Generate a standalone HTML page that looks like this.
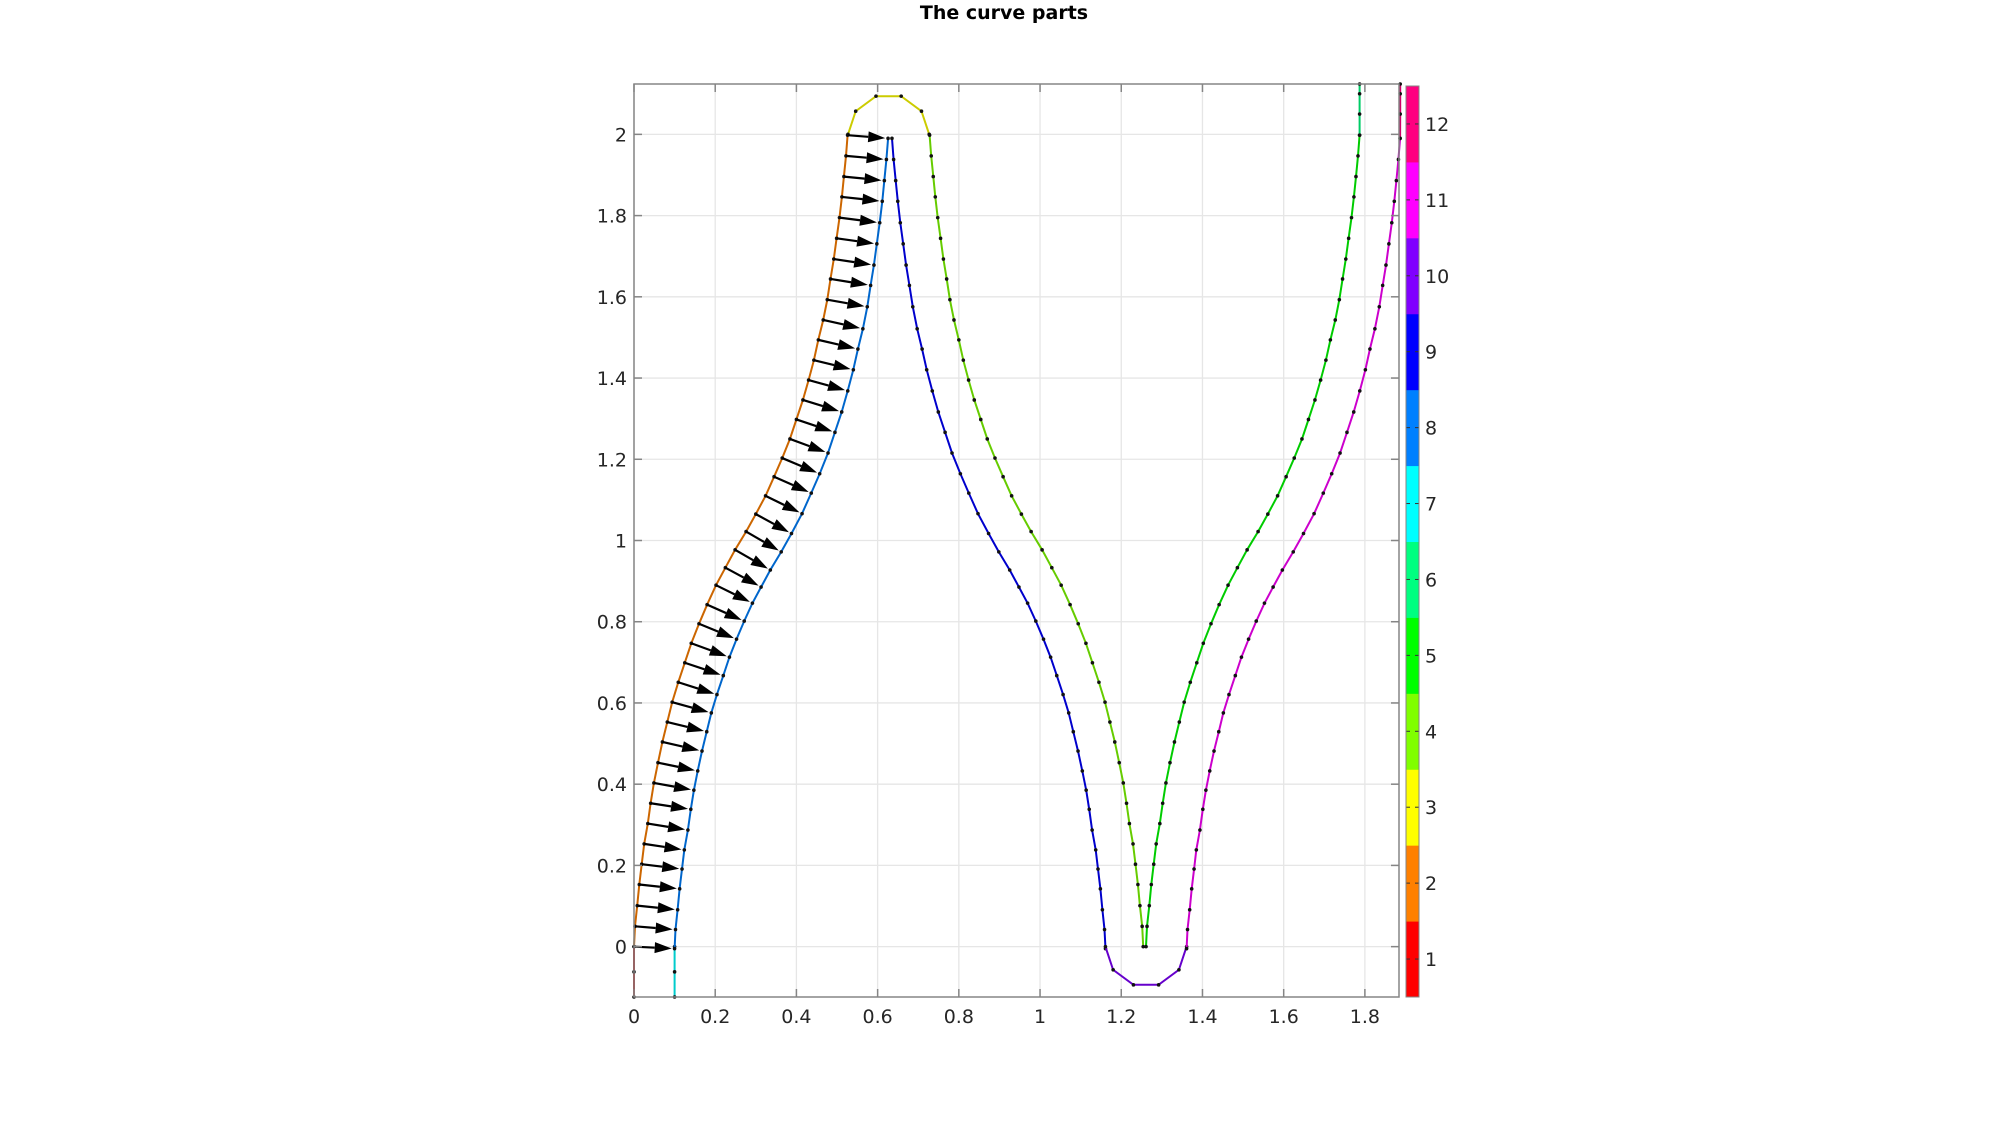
<!DOCTYPE html>
<html><head><meta charset="utf-8"><style>
html,body{margin:0;padding:0;background:#fff;}
svg{display:block;font-family:"DejaVu Sans","Liberation Sans",sans-serif;}
</style></head><body>
<svg id="chart" width="2000" height="1121" viewBox="0 0 2000 1121" xmlns="http://www.w3.org/2000/svg">
<text x="1004" y="19" text-anchor="middle" font-size="19" font-weight="bold" fill="#000">The curve parts</text>
<g id="grid"></g>
<g id="curves"></g>
<g id="arrows"></g>
<g id="axes"></g>
<g id="cbar"></g>
</svg>
<script>
// Outer left profile (orange), y and x values
const outerY = [0,0.05,0.101,0.153,0.203,0.253,0.303,0.353,0.403,0.453,0.504,0.553,0.602,0.651,0.699,0.747,0.795,0.842,0.890,0.933,0.977,1.022,1.065,1.110,1.157,1.203,1.250,1.298,1.346,1.395,1.444,1.494,1.543,1.593,1.644,1.693,1.744,1.795,1.846,1.896,1.947,1.998];
const outerX = [0,0.0025,0.008,0.013,0.019,0.025,0.034,0.041,0.049,0.059,0.070,0.082,0.094,0.109,0.125,0.141,0.160,0.180,0.202,0.225,0.249,0.276,0.300,0.324,0.345,0.365,0.384,0.400,0.416,0.430,0.443,0.454,0.466,0.476,0.484,0.492,0.499,0.506,0.512,0.517,0.522,0.526];
// Extension above y=2 on the right side
const extY = [2.05,2.1,2.124];
const extX = [0.526,0.526,0.526];
// Cap shape (relative offsets)
const capDx = [-0.1,-0.081,-0.031,0.031,0.081,0.1];
const capDy = [0,0.057,0.094,0.094,0.057,0];
const offsetDist = [0.1];
const topCapCenter = [0.627,2.0];
const midCenter = [1.261,0];
const stubBottom = [-0.124];
const cbarLabels = ['1','2','3','4','5','6','7','8','9','10','11','12'];
const xTicks = [0,0.2,0.4,0.6,0.8,1,1.2,1.4,1.6,1.8];
const yTicks = [0,0.2,0.4,0.6,0.8,1,1.2,1.4,1.6,1.8,2];

const L=634,R=1399,T=84,B=997, XMIN=0,XMAX=1.884,YMIN=-0.124,YMAX=2.124;
const sx=v=>L+(v-XMIN)/(XMAX-XMIN)*(R-L);
const sy=v=>B-(v-YMIN)/(YMAX-YMIN)*(B-T);
const NS='http://www.w3.org/2000/svg';
function mk(tag,attrs,parent){const e=document.createElementNS(NS,tag);for(const k in attrs)e.setAttribute(k,attrs[k]);parent.appendChild(e);return e;}
const cmap=['#ff0000','#ff8000','#ffff00','#80ff00','#00ff00','#00ff80','#00ffff','#0080ff','#0000ff','#8000ff','#ff00ff','#ff0080'];
function dark(hex,f){const n=parseInt(hex.slice(1),16);const r=((n>>16)&255)*f,g=((n>>8)&255)*f,b=(n&255)*f;return `rgb(${r|0},${g|0},${b|0})`;}

const grid=document.getElementById('grid');
xTicks.forEach(v=>{const l=mk('line',{x1:sx(v),x2:sx(v),y1:T,y2:B,stroke:'#e6e6e6','stroke-width':1.3},grid);

});
yTicks.forEach(v=>{const l=mk('line',{x1:L,x2:R,y1:sy(v),y2:sy(v),stroke:'#e6e6e6','stroke-width':1.3},grid);

});

const outer=outerX.map((x,i)=>[x,outerY[i]]);
const inner=outer.map((p,i)=>{const a=outer[Math.max(0,i-1)],b=outer[Math.min(outer.length-1,i+1)];
 let tx=b[0]-a[0],ty=b[1]-a[1];const m=Math.hypot(tx,ty);return [p[0]+offsetDist[0]*ty/m,p[1]-offsetDist[0]*tx/m];});
const ext=extX.map((x,i)=>[x,extY[i]]);
const cx0=topCapCenter[0],cx1=midCenter[0];
const parts=[
 [[0,stubBottom[0]],[0,(stubBottom[0])/2],[0,0]],
 outer,
 capDx.map((d,i)=>[cx0+d,topCapCenter[1]+capDy[i]]),
 outer.slice().reverse().map(p=>[2*cx0-p[0],p[1]]),
 outer.map(p=>[cx1+p[0],p[1]]),
 [[cx1+outer[outer.length-1][0],outer[outer.length-1][1]]].concat(ext.map(p=>[cx1+p[0],p[1]])),
 [[offsetDist[0],0],[offsetDist[0],stubBottom[0]/2],[offsetDist[0],stubBottom[0]]].reverse(),
 inner.slice().reverse(),
 inner.map(p=>[cx1-p[0],p[1]]),
 capDx.map((d,i)=>[cx1+d,midCenter[1]-capDy[i]]),
 inner.map(p=>[cx1+p[0],p[1]]),
 ext.map(p=>[cx1+p[0]+offsetDist[0],p[1]]).reverse().concat([[cx1+inner[inner.length-1][0],inner[inner.length-1][1]]])
];
const cg=document.getElementById('curves');
parts.forEach((pts,k)=>{
 const d=pts.map((p,i)=>(i?'L':'M')+sx(p[0]).toFixed(1)+' '+sy(p[1]).toFixed(1)).join(' ');
 const path=mk('path',{d:d,fill:'none',stroke:dark(cmap[k],0.8),'stroke-width':2},cg);
 
 
 pts.forEach(p=>{const c=mk('circle',{cx:sx(p[0]),cy:sy(p[1]),r:1.8,fill:'#111'},cg);
  
  });
});
const ag=document.getElementById('arrows');
outer.forEach((p,i)=>{
 const x1=sx(p[0]),y1=sy(p[1]),x2=sx(inner[i][0]),y2=sy(inner[i][1]);
 const dx=x2-x1,dy=y2-y1,m=Math.hypot(dx,dy),ux=dx/m,uy=dy/m;
 const tx=x1+dx*0.93,ty=y1+dy*0.93,hl=17,hw=5.5;
 const bx=tx-ux*hl,by=ty-uy*hl;
 const g=mk('g',{},ag);
 
 
 mk('line',{x1:x1,y1:y1,x2:bx,y2:by,stroke:'#000','stroke-width':2.2},g);
 mk('polygon',{points:`${tx},${ty} ${bx-uy*hw},${by+ux*hw} ${bx+uy*hw},${by-ux*hw}`,fill:'#000'},g);
});
const ax=document.getElementById('axes');
const box=mk('rect',{x:L,y:T,width:R-L,height:B-T,fill:'none',stroke:'#858585','stroke-width':1.5},ax);


xTicks.forEach(v=>{
 mk('line',{x1:sx(v),x2:sx(v),y1:B,y2:B-8,stroke:'#858585','stroke-width':1.5},ax);
 mk('line',{x1:sx(v),x2:sx(v),y1:T,y2:T+8,stroke:'#858585','stroke-width':1.5},ax);
 const t=mk('text',{x:sx(v),y:B+26,'text-anchor':'middle','font-size':19,fill:'#262626'},ax);
 t.textContent=String(v);
 
 
});
yTicks.forEach(v=>{
 mk('line',{x1:L,x2:L+8,y1:sy(v),y2:sy(v),stroke:'#858585','stroke-width':1.5},ax);
 mk('line',{x1:R,x2:R-8,y1:sy(v),y2:sy(v),stroke:'#858585','stroke-width':1.5},ax);
 const t=mk('text',{x:L-7,y:sy(v)+7,'text-anchor':'end','font-size':19,fill:'#262626'},ax);
 t.textContent=String(v);
 
 
});
const cb=document.getElementById('cbar');
const CL=1406,CR=1419,CT=86,CB=997,n=cbarLabels.length,h=(CB-CT)/n;
cbarLabels.forEach((lab,i)=>{
 const y0=CB-(i+1)*h;
 const r=mk('rect',{x:CL,y:y0,width:CR-CL,height:h+0.5,fill:cmap[i]},cb);
 
 
 const yc=y0+h/2;
 mk('line',{x1:CL,x2:CL+4,y1:yc,y2:yc,stroke:'#333','stroke-width':1},cb);
 mk('line',{x1:CR,x2:CR-4,y1:yc,y2:yc,stroke:'#333','stroke-width':1},cb);
 const t=mk('text',{x:CR+6,y:yc+7,'font-size':19,fill:'#262626'},cb);
 t.textContent=lab;
 
 
});
mk('rect',{x:CL,y:CT,width:CR-CL,height:CB-CT,fill:'none',stroke:'#858585','stroke-width':1},cb);
</script>
</body></html>
